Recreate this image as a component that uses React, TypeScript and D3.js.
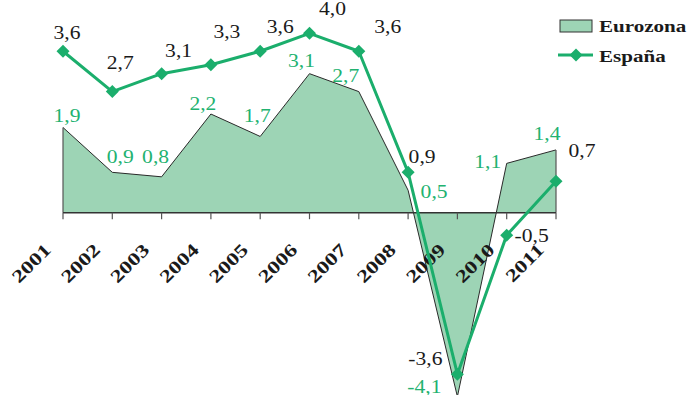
import React from "react";
import * as d3 from "d3";

const years = ["2001","2002","2003","2004","2005","2006","2007","2008","2009","2010","2011"];
const eurozona = [1.9, 0.9, 0.8, 2.2, 1.7, 3.1, 2.7, 0.5, -4.1, 1.1, 1.4];
const espana = [3.6, 2.7, 3.1, 3.3, 3.6, 4.0, 3.6, 0.9, -3.6, -0.5, 0.7];
const seriesNames = ["Eurozona", "España"];

// label layout offsets (relative to data point), in px
const espLabelOff: [number, number][] = [[4,-12],[8,-23],[17,-17],[16,-27],[20,-18],[23,-18],[29,-18],[14,-9],[-32,-9],[25,7],[26,-24]];
const euLabelOff: [number, number][] = [[4,-5],[8,-9],[-6,-14],[-8,-4],[-3,-14],[-8,-7],[-13,-10],[26,8],[-33,-4],[-19,5],[-9,-10]];

const W = 690, H = 395;
const GREEN = "#1bae6c";
const FILL = "#9dd4b5";
const LABEL_GREEN = "#22b270";
const FONT = "Liberation Serif";

const fmt = (v: number) => v.toFixed(1).replace(".", ",");

export default function App() {
  const x = d3.scalePoint<string>().domain(years).range([63, 556]);
  const y = d3.scaleLinear().domain([0, 4]).range([212.7, 33.3]);

  const area = d3.area<number>()
    .x((_, i) => x(years[i])!)
    .y0(y(0))
    .y1((d) => y(d));
  const euLine = d3.line<number>().x((_, i) => x(years[i])!).y((d) => y(d));
  const esLine = d3.line<number>().x((_, i) => x(years[i])!).y((d) => y(d));
  const diamond = (cx: number, cy: number, r = 6.5) =>
    `M${cx},${cy - r}L${cx + r},${cy}L${cx},${cy + r}L${cx - r},${cy}Z`;

  const x0 = x(years[0])!;
  const xN = x(years[years.length - 1])!;

  return (
    <svg width={W} height={H} style={{ position: "absolute", left: 0, top: 0, background: "#fff", fontFamily: FONT }}>
      {/* Eurozona area */}
      <path d={area(eurozona)!} fill={FILL} stroke="none" />
      <path d={euLine(eurozona)!} fill="none" stroke="#2a2a2a" strokeWidth={1} />
      <line x1={x0} x2={x0} y1={y(eurozona[0])} y2={y(0)} stroke="#555" strokeWidth={1.2} />
      <line x1={xN} x2={xN} y1={y(eurozona[eurozona.length - 1])} y2={y(0)} stroke="#555" strokeWidth={1.2} />

      {/* axis */}
      <line x1={x0} x2={xN} y1={y(0)} y2={y(0)} stroke="#333" strokeWidth={1.5} />
      {years.map((yr) => (
        <line key={yr} x1={x(yr)} x2={x(yr)} y1={y(0)} y2={y(0) + 6.5} stroke="#555" strokeWidth={1.2} />
      ))}
      {years.map((yr) => (
        <text key={"t" + yr}
          transform={`translate(${x(yr)! - 11},${251}) rotate(-45) scale(1.3,1)`}
          textAnchor="end" style={{ fontFamily: FONT }} fontWeight="bold" fontSize={18} fill="#1a1a1a">
          {yr}
        </text>
      ))}

      {/* España line */}
      <path d={esLine(espana)!} fill="none" stroke={GREEN} strokeWidth={3} strokeLinejoin="round" />
      {espana.map((v, i) => (
        <path key={"m" + i} d={diamond(x(years[i])!, y(v))} fill={GREEN} />
      ))}

      {/* labels */}
      {espana.map((v, i) => (
        <text key={"le" + i}
          transform={`translate(${x(years[i])! + espLabelOff[i][0]},${y(v) + espLabelOff[i][1]}) scale(1.2,1)`}
          textAnchor="middle" style={{ fontFamily: FONT }} fontSize={18} fill="#1a1a1a">
          {fmt(v)}
        </text>
      ))}
      {eurozona.map((v, i) => (
        <text key={"lz" + i}
          transform={`translate(${x(years[i])! + euLabelOff[i][0]},${y(v) + euLabelOff[i][1]}) scale(1.2,1)`}
          textAnchor="middle" style={{ fontFamily: FONT }} fontSize={18} fill={LABEL_GREEN}>
          {fmt(v)}
        </text>
      ))}

      {/* legend */}
      <rect x={560} y={20} width={32} height={12} fill={FILL} stroke="#333" strokeWidth={1} />
      <text transform="translate(599,32) scale(1.24,1)" style={{ fontFamily: FONT }} fontWeight="bold" fontSize={17} fill="#1a1a1a">
        {seriesNames[0]}
      </text>
      <line x1={558} x2={593} y1={55} y2={55} stroke={GREEN} strokeWidth={3} />
      <path d={diamond(576, 55)} fill={GREEN} />
      <text transform="translate(599,62) scale(1.24,1)" style={{ fontFamily: FONT }} fontWeight="bold" fontSize={17} fill="#1a1a1a">
        {seriesNames[1]}
      </text>
    </svg>
  );
}
